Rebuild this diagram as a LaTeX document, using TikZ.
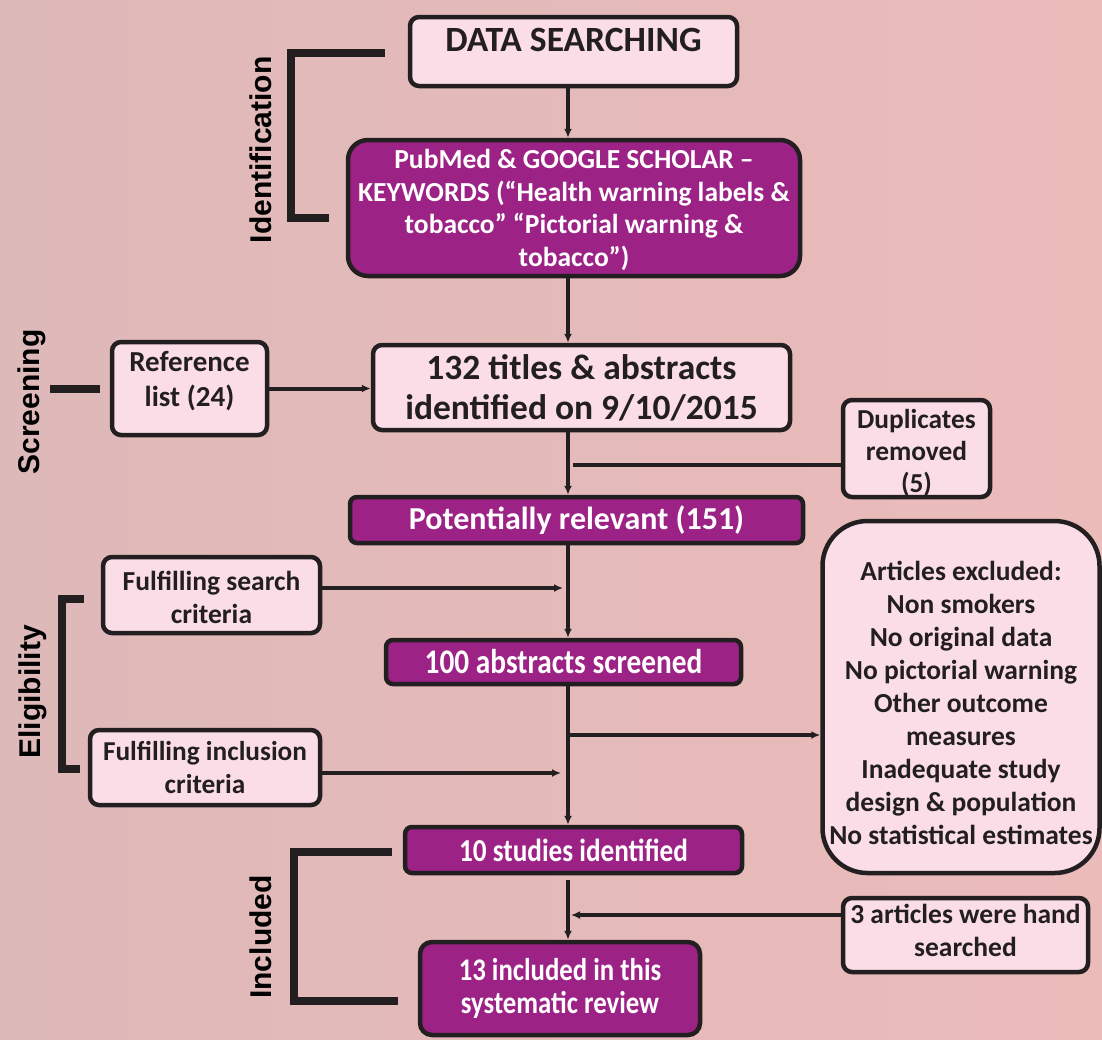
\documentclass[tikz,border=0pt]{standalone}
\usepackage{fontspec}
\setmainfont{Carlito}
\newfontfamily\arialf{Liberation Sans}
\newfontfamily\condf[FakeStretch=0.85]{Carlito}
\usetikzlibrary{arrows.meta}
\definecolor{bgL}{HTML}{DEB9B9}
\definecolor{bgR}{HTML}{EBBBBA}
\definecolor{pinkfill}{HTML}{FBDDE8}
\definecolor{purp}{HTML}{9C2286}
\definecolor{ink}{HTML}{231F20}
\newcommand{\shiftbox}[2]{\raisebox{#1}[\height][\depth]{\begin{tabular}{@{}c@{}}#2\end{tabular}}}
\tikzset{
  lightbox/.style={draw=ink, line width=4.5pt, fill=pinkfill, rounded corners=9pt, inner sep=0pt, align=center, text=ink, font=\bfseries},
  purpbox/.style={draw=ink, line width=4.5pt, fill=purp, rounded corners=7pt, inner sep=0pt, align=center, text=white, font=\bfseries},
  conn/.style={draw=ink, line width=4pt},
  arr/.style={conn, -{Latex[length=9pt,width=8pt]}},
  brk/.style={draw=ink, line width=8pt},
  sidelab/.style={rotate=90, text=black, font=\arialf\bfseries\fontsize{30}{36}\selectfont, inner sep=0pt}
}
\begin{document}
\begin{tikzpicture}[x=1pt,y=-1pt]
\shade[left color=bgL, right color=bgR] (0,0) rectangle (1102,1039);
\useasboundingbox (0,0) rectangle (1102,1039);
\coordinate (spine) at (568,0);

\node[lightbox, minimum width=327pt, minimum height=69pt, text height=25pt, text depth=25pt, font=\bfseries\fontsize{35.5}{40}\selectfont] (ds) at (573.5,51.5) {DATA SEARCHING};
\node[purpbox, rounded corners=20pt, minimum width=452pt, minimum height=136pt, font=\bfseries\fontsize{27.5}{32.7}\selectfont] (pub) at (574,208) {\shiftbox{-3pt}{PubMed \& GOOGLE SCHOLAR --\\KEYWORDS (“Health warning labels \&\\tobacco” “Pictorial warning \&\\tobacco”)}};
\node[lightbox, minimum width=417pt, minimum height=85pt, font=\bfseries\fontsize{35.5}{40}\selectfont] (t132) at (581.5,387.5) {132 titles \& abstracts\\identified on 9/10/2015};
\node[lightbox, minimum width=155pt, minimum height=93pt, font=\bfseries\fontsize{29}{35}\selectfont] (ref) at (189.5,388.5) {\shiftbox{7pt}{Reference\\list (24)}};
\node[lightbox, minimum width=147pt, minimum height=97pt, font=\bfseries\fontsize{27.4}{32}\selectfont] (dup) at (916.5,448.5) {\shiftbox{-6pt}{Duplicates\\removed\\(5)}};
\node[purpbox, minimum width=453pt, minimum height=46pt, font=\bfseries\fontsize{32}{36}\selectfont] (pot) at (576.5,520) {Potentially relevant (151)};
\node[lightbox, minimum width=217pt, minimum height=76pt, font=\bfseries\fontsize{27.5}{33}\selectfont] (fs) at (211.5,595) {\shiftbox{-5pt}{Fulfilling search\\criteria}};
\node[purpbox, minimum width=355pt, minimum height=44pt, font=\condf\bfseries\fontsize{34.5}{38}\selectfont] (abs) at (563.5,662) {100 abstracts screened};
\node[lightbox, minimum width=230pt, minimum height=75pt, font=\bfseries\fontsize{27.3}{33}\selectfont] (fi) at (205,767.5) {Fulfilling inclusion\\criteria};
\node[lightbox, rounded corners=45pt, minimum width=277pt, minimum height=352pt, font=\bfseries\fontsize{27.5}{33}\selectfont] (excl) at (961,697) {\shiftbox{-9pt}{Articles excluded:\\Non smokers\\No original data\\No pictorial warning\\Other outcome\\measures\\Inadequate study\\design \& population\\No statistical estimates}};
\node[purpbox, minimum width=337pt, minimum height=46pt, font=\condf\bfseries\fontsize{32}{36}\selectfont] (s10) at (573.5,850) {10 studies identified};
\node[lightbox, minimum width=245pt, minimum height=74pt, font=\bfseries\fontsize{27.5}{33}\selectfont] (a3) at (965.5,935) {\shiftbox{2pt}{3 articles were hand\\searched}};
\node[purpbox, rounded corners=12pt, minimum width=280pt, minimum height=93pt, font=\condf\bfseries\fontsize{31.5}{33}\selectfont] (inc) at (560,988.5) {13 included in this\\systematic review};

% connectors
\draw[arr] (ds.south -| spine) -- (pub.north -| spine);
\draw[arr] (pub.south -| spine) -- (t132.north -| spine);
\draw[arr] (ref.east) -- (t132.west |- ref.east);
\draw[arr] (t132.south -| spine) -- (pot.north -| spine);
\coordinate (dupj) at (573,465);
\draw[conn] (dup.west |- dupj) -- (dupj);
\draw[arr] (pot.south -| spine) -- (abs.north -| spine);
\coordinate (fsj) at (563,588);
\draw[arr] (fs.east |- fsj) -- (fsj);
\draw[arr] (abs.south -| spine) -- (s10.north -| spine);
\coordinate (fij) at (561,773);
\draw[arr] (fi.east |- fij) -- (fij);
\coordinate (exj) at (568,735);
\draw[arr] (exj) -- (excl.west |- exj);
\draw[arr] (s10.south -| spine) ++(0,5) -- (inc.north -| spine);
\coordinate (a3j) at (571,915);
\draw[arr] (a3.west |- a3j) -- (a3j);

% brackets
\draw[brk] (385,53) -- (291,53) -- (291,218) -- (329,218);
\draw[brk] (50,389) -- (100,389);
\draw[brk] (84,599) -- (62,599) -- (62,769) -- (80,769);
\draw[brk] (392,852) -- (294,852) -- (294,1001) -- (398,1001);

% side labels
\node[sidelab] (lid) at (261,150) {Identification};
\node[sidelab] (lscr) at (32,402) {Screening};
\node[sidelab] (lelig) at (33,692) {Eligibility};
\node[sidelab] (linc) at (261,937) {Included};
\end{tikzpicture}
\end{document}
